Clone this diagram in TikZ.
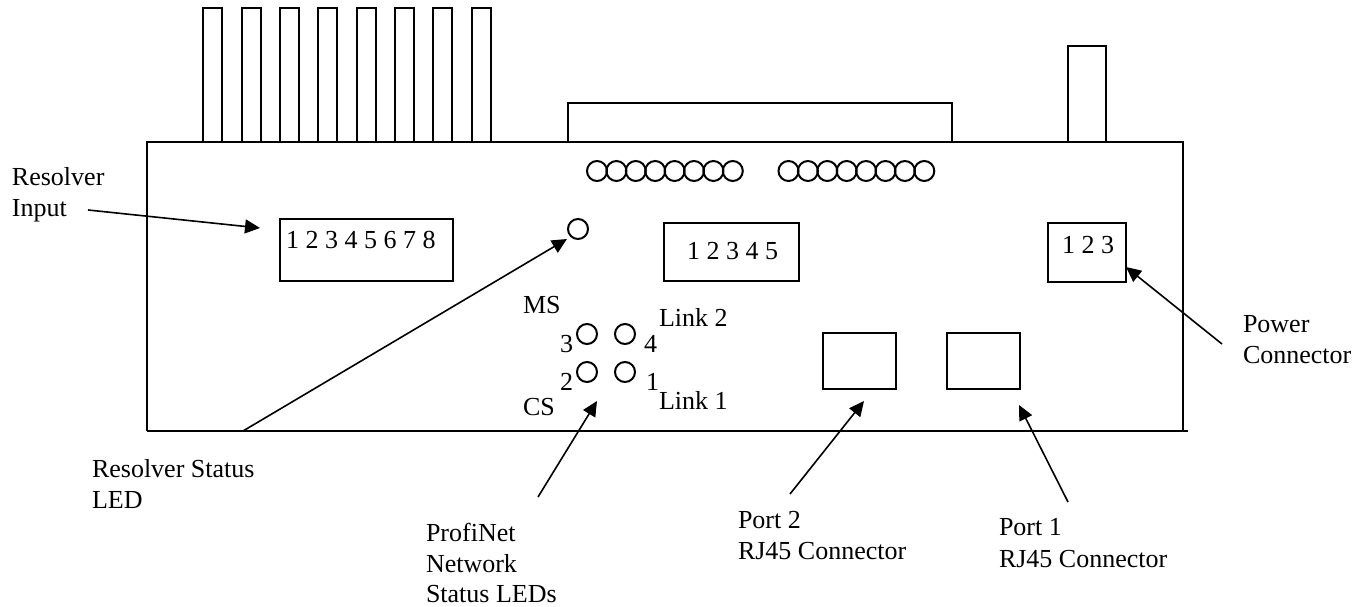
\documentclass[tikz,border=0pt]{standalone}
\usepackage{fontspec}
\setmainfont{Liberation Serif}
\usetikzlibrary{arrows.meta}
\tikzset{
  part/.style={draw=black,line width=1.8pt,fill=white,inner sep=0pt,outer sep=0pt,rectangle},
  fin/.style={part,line width=1.5pt},
  led/.style={draw=black,line width=2pt,circle,inner sep=0pt,outer sep=0pt,minimum size=20pt},
  txt/.style={anchor=base west,inner sep=0pt,outer sep=0pt,font=\fontsize{26}{26}\selectfont},
  edgeline/.style={draw=black,line width=1.5pt},
  pointer/.style={draw=black,line width=1.6pt,-{Triangle[length=15pt,width=14pt]}}
}
\newcommand{\boxat}[7][part]{\node[#1,minimum width=#5pt-#3pt,minimum height=#6pt-#4pt] (#2) at ({(#3+#5)/2},{(#4+#6)/2}) {#7};}
\begin{document}
\begin{tikzpicture}[x=1pt,y=-1pt]
\useasboundingbox (0,0) rectangle (1370,607);
% body
\coordinate (tl) at (147,142);
\coordinate (tr) at (1183,142);
\coordinate (bl) at (147,431);
\coordinate (br) at (1183,431);
\coordinate (be) at (1188,431);
\draw[edgeline] (bl) -- (tl) -- (tr) -- (br);
\draw[edgeline] (bl) -- (be);
% fins
\boxat[fin]{f1}{203}{8}{222}{142}{}
\boxat[fin]{f2}{242}{8}{261}{142}{}
\boxat[fin]{f3}{280}{8}{299}{142}{}
\boxat[fin]{f4}{318}{8}{337}{142}{}
\boxat[fin]{f5}{357}{8}{376}{142}{}
\boxat[fin]{f6}{395}{8}{414}{142}{}
\boxat[fin]{f7}{433}{8}{452}{142}{}
\boxat[fin]{f8}{472}{8}{491}{142}{}
\boxat[fin]{wide}{568}{103}{952}{142}{}
\boxat[fin]{pow}{1068}{46}{1106}{142}{}
% LED rows
\foreach \i in {0,...,7} {
  \node[led] (a\i) at ({597+19.4*\i},171) {};
  \node[led] (b\i) at ({788.5+19.4*\i},171) {};
}
\node[led] (status) at (578,229) {};
% boxes
\boxat{resbox}{280}{219}{453}{281}{}
\boxat{midbox}{664}{223}{799}{281}{}
\boxat{rightbox}{1048}{223}{1126}{282}{}
\boxat{rj2}{823}{333}{896}{389}{}
\boxat{rj1}{947}{333}{1020}{389}{}
% numbers
\node[txt] (n8) at (286,248) {1 2 3 4 5 6 7 8};
\node[txt] (n5) at (687,259) {1 2 3 4 5};
\node[txt] (n3) at (1062,253) {1 2 3};
% network LEDs
\node[led] (l3) at (587,334) {};
\node[led] (l4) at (625,334) {};
\node[led] (l2) at (587,372) {};
\node[led] (l1) at (625,372) {};
\node[txt] (ms) at (523,313) {MS};
\node[txt] (cs) at (523,415) {CS};
\node[txt] (t3) at (560,352) {3};
\node[txt] (t4) at (644,352) {4};
\node[txt] (t2) at (560,390) {2};
\node[txt] (t1) at (646,390) {1};
\node[txt] (lk2) at (659,326) {Link 2};
\node[txt] (lk1) at (659,409) {Link 1};
% labels
\node[txt] (lres1) at (12,185) {Resolver};
\node[txt] (lres2) at (12,216) {Input};
\node[txt] (lst1) at (92,477) {Resolver Status};
\node[txt] (lst2) at (92,508) {LED};
\node[txt] (lpn1) at (426,541) {ProfiNet};
\node[txt] (lpn2) at (426,572) {Network};
\node[txt] (lpn3) at (426,602) {Status LEDs};
\node[txt] (lp21) at (738,528) {Port 2};
\node[txt] (lp22) at (738,559) {RJ45 Connector};
\node[txt] (lp11) at (999,535) {Port 1};
\node[txt] (lp12) at (999,567) {RJ45 Connector};
\node[txt] (lpw1) at (1243,332) {Power};
\node[txt] (lpw2) at (1243,363) {Connector};
% pointers
\coordinate (c1) at (88,210);
\coordinate (c2) at (260,228);
\coordinate (c3) at (243,431);
\coordinate (c4) at (567,239);
\coordinate (c5) at (538,497);
\coordinate (c6) at (597,401);
\coordinate (c7) at (790,494);
\coordinate (c8) at (864,401);
\coordinate (c9) at (1068,502);
\coordinate (c10) at (1019,405);
\coordinate (c11) at (1222,344);
\coordinate (c12) at (1126,267);
\draw[pointer] (c1) -- (c2);
\draw[pointer] (c3) -- (c4);
\draw[pointer] (c5) -- (c6);
\draw[pointer] (c7) -- (c8);
\draw[pointer] (c9) -- (c10);
\draw[pointer] (c11) -- (c12);
\end{tikzpicture}
\end{document}
